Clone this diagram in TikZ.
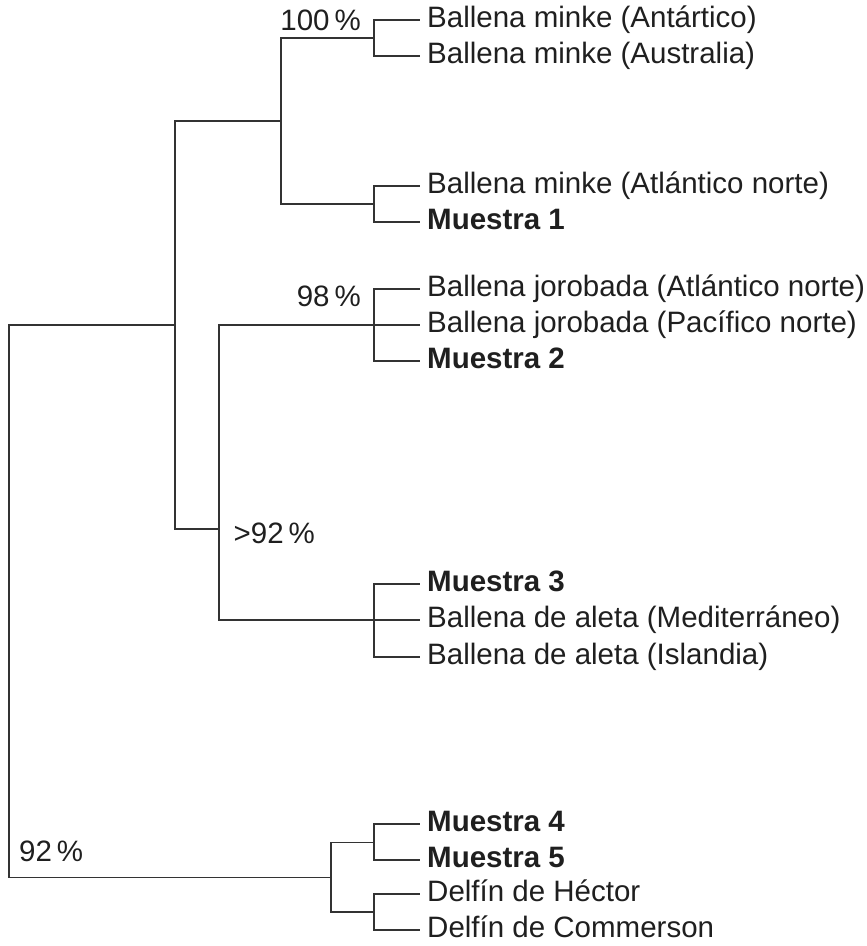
\documentclass[tikz,border=0pt]{standalone}
\usepackage{fontspec}
\setmainfont{Liberation Sans}

\begin{document}
\begin{tikzpicture}
[every node/.style={inner sep=0pt, text=black!88},
 leaf/.style={anchor=west, inner xsep=7pt, inner ysep=0pt, text height=21pt, text depth=6pt, font=\fontsize{29.5}{34}\selectfont},
 sample/.style={leaf, font=\fontsize{29.5}{34}\selectfont\bfseries},
 support/.style={font=\fontsize{29.5}{34}\selectfont},
 branch/.style={line width=1.2pt, color=black!80}]
\useasboundingbox (0pt, 0pt) rectangle (867pt, -946pt);
% leaves
\node (1) [leaf] at (420.0pt, -20.0pt) {Ballena minke (Antártico)};
\node (2) [leaf] at (420.0pt, -56.0pt) {Ballena minke (Australia)};
\node (3) [leaf] at (420.0pt, -186.0pt) {Ballena minke (Atlántico norte)};
\node (4) [sample] at (420.0pt, -222.0pt) {Muestra 1};
\node (5) [leaf] at (420.0pt, -289.0pt) {Ballena jorobada (Atlántico norte)};
\node (6) [leaf] at (420.0pt, -325.0pt) {Ballena jorobada (Pacífico norte)};
\node (7) [sample] at (420.0pt, -361.0pt) {Muestra 2};
\node (8) [sample] at (420.0pt, -584.0pt) {Muestra 3};
\node (9) [leaf] at (420.0pt, -620.0pt) {Ballena de aleta (Mediterráneo)};
\node (10) [leaf] at (420.0pt, -657.0pt) {Ballena de aleta (Islandia)};
\node (11) [sample] at (420.0pt, -824.0pt) {Muestra 4};
\node (12) [sample] at (420.0pt, -860.0pt) {Muestra 5};
\node (13) [leaf] at (420.0pt, -894.0pt) {Delfín de Héctor};
\node (14) [leaf] at (420.0pt, -930.0pt) {Delfín de Commerson};
% inner nodes
\coordinate (a) at (374.0pt, -38.0pt);
\coordinate (b) at (374.0pt, -204.0pt);
\coordinate (c) at (281.0pt, -121.0pt);
\coordinate (d) at (374.0pt, -325.0pt);
\coordinate (e) at (374.0pt, -620.0pt);
\coordinate (f) at (219.0pt, -529.0pt);
\coordinate (g) at (175.0pt, -325.0pt);
\coordinate (h) at (374.0pt, -842.5pt);
\coordinate (i) at (374.0pt, -912.0pt);
\coordinate (j) at (331.0pt, -877.5pt);
\coordinate (root) at (9.0pt, -601.0pt);
% support values
\node (s100) [support, anchor=base east] at (361.0pt, -30.0pt) {100\,\%};
\node (s98) [support, anchor=base east] at (361.0pt, -306.0pt) {98\,\%};
\node (s92a) [support, anchor=base west] at (233.5pt, -543.0pt) {>92\,\%};
\node (s92b) [support, anchor=base west] at (19.0pt, -861.0pt) {92\,\%};
% branches
\draw [branch] (a) |- (1.west);
\draw [branch] (a) |- (2.west);
\draw [branch] (b) |- (3.west);
\draw [branch] (b) |- (4.west);
\draw [branch] (c) |- (a);
\draw [branch] (c) |- (b);
\draw [branch] (d) |- (5.west);
\draw [branch] (d) |- (6.west);
\draw [branch] (d) |- (7.west);
\draw [branch] (e) |- (8.west);
\draw [branch] (e) |- (9.west);
\draw [branch] (e) |- (10.west);
\draw [branch] (f) |- (d);
\draw [branch] (f) |- (e);
\draw [branch] (g) |- (c);
\draw [branch] (g) |- (f);
\draw [branch] (h) |- (11.west);
\draw [branch] (h) |- (12.west);
\draw [branch] (i) |- (13.west);
\draw [branch] (i) |- (14.west);
\draw [branch] (j) |- (h);
\draw [branch] (j) |- (i);
\draw [branch] (root) |- (g);
\draw [branch] (root) |- (j);

\end{tikzpicture}
\end{document}
